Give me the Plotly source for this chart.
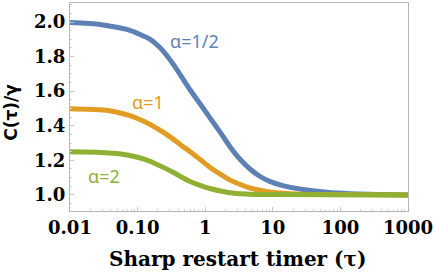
import math
import plotly.graph_objects as go

tau_half = [0.01, 0.028, 0.077, 0.15, 0.21, 0.3, 0.42, 0.6, 0.84, 1.17, 1.67, 2.3, 3.3, 4.6, 6.4, 9, 14, 25, 63, 140, 1000]
c_half = [1.997, 1.986, 1.952, 1.902, 1.855, 1.783, 1.70, 1.607, 1.527, 1.447, 1.362, 1.282, 1.205, 1.15, 1.108, 1.078, 1.054, 1.034, 1.015, 1.007, 1.0]

tau_one = [0.01, 0.028, 0.046, 0.077, 0.128, 0.18, 0.254, 0.357, 0.45, 0.6, 0.84, 1.17, 1.67, 2.3, 3.3, 4.6, 6.4, 9, 18, 50, 1000]
c_one = [1.498, 1.492, 1.481, 1.458, 1.423, 1.392, 1.356, 1.315, 1.285, 1.25, 1.205, 1.16, 1.12, 1.087, 1.06, 1.04, 1.027, 1.017, 1.007, 1.002, 1.0]

tau_two = [0.01, 0.028, 0.046, 0.077, 0.128, 0.18, 0.254, 0.357, 0.45, 0.6, 0.84, 1.17, 1.67, 2.3, 3.9, 9, 1000]
c_two = [1.249, 1.246, 1.241, 1.228, 1.205, 1.182, 1.155, 1.125, 1.102, 1.078, 1.055, 1.037, 1.023, 1.013, 1.006, 1.002, 1.0]

x_tickvals = [0.01, 0.1, 1, 10, 100, 1000]
x_ticktext = ["0.01", "0.10", "1", "10", "100", "1000"]
y_tickvals = [1.0, 1.2, 1.4, 1.6, 1.8, 2.0]
y_ticktext = ["1.0", "1.2", "1.4", "1.6", "1.8", "2.0"]

labels = ["α=1/2", "α=1", "α=2"]
label_x = [0.70, 0.142, 0.032]
label_y = [1.89, 1.538, 1.11]
colors = ["#5E81B5", "#E19C24", "#8FB032"]

x_title = "Sharp restart timer (τ)"
y_title = "C(τ)/γ"

fig = go.Figure()
for t, c, col in [(tau_half, c_half, colors[0]), (tau_one, c_one, colors[1]), (tau_two, c_two, colors[2])]:
    fig.add_trace(go.Scatter(x=t, y=c, mode="lines", line=dict(color=col, width=5, shape="spline", smoothing=0.6),
                             showlegend=False, hoverinfo="skip"))

for lab, lx, ly, col in zip(labels, label_x, label_y, colors):
    fig.add_annotation(x=math.log10(lx), y=ly, xref="x", yref="y", text=lab, showarrow=False,
                       font=dict(family="Noto Sans", size=18, color=col))

fig.add_annotation(x=0.497, y=-0.231, xref="paper", yref="paper", text=x_title, showarrow=False,
                   xanchor="center", yanchor="middle",
                   font=dict(family="DejaVu Serif", size=20, color="black", weight="bold"))
fig.add_annotation(x=-0.175, y=0.476, xref="paper", yref="paper", text=y_title, showarrow=False,
                   xanchor="center", yanchor="middle", textangle=-90,
                   font=dict(family="DejaVu Sans", size=17, color="black", weight="bold"))

fig.update_xaxes(type="log", range=[-2, 3], tickvals=x_tickvals, ticktext=x_ticktext, automargin=False,
                 showgrid=False, zeroline=False, showline=True, mirror=True, linecolor="#b5b5b5", linewidth=1,
                 ticks="inside", ticklen=4, tickcolor="#c8c8c8",
                 minor=dict(ticks="inside", ticklen=2, tickcolor="#d5d5d5",
                            tickvals=[m * 10 ** e for e in range(-2, 3) for m in range(2, 10)]),
                 tickfont=dict(family="DejaVu Serif", size=18, color="black", weight="bold"))
fig.update_yaxes(range=[0.907, 2.11], tickvals=y_tickvals, ticktext=y_ticktext, automargin=False,
                 showgrid=False, zeroline=False, showline=True, mirror=True, linecolor="#b5b5b5", linewidth=1,
                 ticks="inside", ticklen=4, tickcolor="#c8c8c8",
                 minor=dict(ticks="inside", ticklen=2, tickcolor="#d5d5d5", dtick=0.05),
                 tickfont=dict(family="DejaVu Serif", size=18, color="black", weight="bold"))
fig.update_layout(width=436, height=273, margin=dict(l=70, r=28, t=3, b=62),
                  plot_bgcolor="white", paper_bgcolor="white")
fig.write_html("out.html", config={"displayModeBar": False},
               post_script="document.body.style.margin='0';document.body.style.overflow='hidden';")
